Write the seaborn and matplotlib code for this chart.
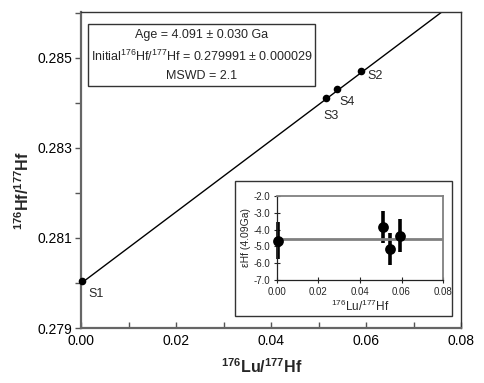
import numpy as np
import pandas as pd
import matplotlib
matplotlib.use("Agg")
import matplotlib.pyplot as plt
from matplotlib.patches import Rectangle
from matplotlib.ticker import MultipleLocator, FormatStrFormatter
import seaborn as sns

# ---- data ----
samples = ["S1", "S2", "S3", "S4"]
lu_hf = [0.0002, 0.0589, 0.0516, 0.0539]
hf_hf = [0.28004, 0.28471, 0.28411, 0.28431]
iso_intercept = 0.279991
iso_slope = 0.07937
iso_x = [0.0, 0.08]

main_yticks = [0.279, 0.281, 0.283, 0.285]
main_yminor = [0.280, 0.282, 0.284, 0.286]

inset_x = [0.0005, 0.0513, 0.0545, 0.0592]
inset_ehf = [-4.65, -3.83, -5.15, -4.36]
inset_err = [1.1, 0.95, 0.95, 1.0]
inset_mean = -4.55

box_lines = ["Age = 4.091 \u00b1 0.030 Ga",
             "Initial$^{176}$Hf/$^{177}$Hf = 0.279991 \u00b1 0.000029",
             "MSWD = 2.1"]

sns.set_style("ticks")
plt.rcParams["font.family"] = ["Liberation Sans", "DejaVu Sans"]
plt.rcParams["mathtext.fontset"] = "custom"
plt.rcParams["mathtext.rm"] = "Liberation Sans"
plt.rcParams["mathtext.it"] = "Liberation Sans:italic"
plt.rcParams["mathtext.bf"] = "Liberation Sans:bold"

df = pd.DataFrame({"sample": samples, "x": lu_hf, "y": hf_hf})

fig = plt.figure(figsize=(4.84, 3.83), dpi=100)
ax = fig.add_axes([0.1674, 0.1436, 0.7851, 0.8251])

iso_y = [iso_intercept + iso_slope * v for v in iso_x]
ax.plot(iso_x, iso_y, color="black", lw=1.0, zorder=2)
sns.scatterplot(data=df, x="x", y="y", ax=ax, color="black", s=30,
                edgecolor="black", linewidth=0, zorder=3, legend=False, clip_on=False)

offsets = {"S1": (0.0013, -0.00028), "S2": (0.0013, -0.00012),
           "S3": (-0.0005, -0.00041), "S4": (0.0006, -0.00030)}
for s, xv, yv in zip(samples, lu_hf, hf_hf):
    dx, dy = offsets[s]
    ax.text(xv + dx, yv + dy, s, fontsize=9, ha="left", va="center")

ax.set_xlim(0, 0.08)
ax.set_ylim(0.279, 0.28602)
ax.xaxis.set_major_locator(MultipleLocator(0.02))
ax.xaxis.set_minor_locator(MultipleLocator(0.01))
ax.set_yticks(main_yticks)
ax.set_yticks(main_yminor, minor=True)
ax.xaxis.set_major_formatter(FormatStrFormatter("%.2f"))
ax.yaxis.set_major_formatter(FormatStrFormatter("%.3f"))
ax.tick_params(axis="x", which="both", direction="in", length=4, width=1, colors="#555555", labelcolor="black", labelsize=10, pad=4)
ax.tick_params(axis="y", which="both", direction="out", length=4, width=1, colors="#555555", labelcolor="black", labelsize=10, pad=2)
for sp in ["left", "bottom"]:
    ax.spines[sp].set_color("#666666")
    ax.spines[sp].set_linewidth(1.6)
for sp in ["top", "right"]:
    ax.spines[sp].set_color("#333333")
    ax.spines[sp].set_linewidth(1.0)
ax.set_xlabel(r"$\mathbf{^{176}Lu/^{177}Hf}$", fontsize=11.5)
ax.set_ylabel(r"$\mathbf{^{176}Hf/^{177}Hf}$", fontsize=11.5)
ax.xaxis.set_label_coords(0.476, -0.092)
ax.yaxis.set_label_coords(-0.128, 0.434)

# text box
fig.patches.append(Rectangle((0.1818, 0.7755), 0.469, 0.1619, transform=fig.transFigure,
                             facecolor="white", edgecolor="#333333", lw=1.0, zorder=5))
for t, yy in zip(box_lines, [0.9086, 0.8538, 0.8016]):
    fig.text(0.4174, yy, t, ha="center", va="center", fontsize=9, zorder=6)

# inset frame
fig.patches.append(Rectangle((0.4855, 0.1749), 0.4484, 0.3525, transform=fig.transFigure,
                             facecolor="white", edgecolor="#333333", lw=1.0, zorder=5))
axi = fig.add_axes([0.5723, 0.2689, 0.343, 0.2194])
axi.set_zorder(6)
axi.errorbar(inset_x, inset_ehf, yerr=inset_err, fmt="none", ecolor="black",
             elinewidth=2.6, capsize=0, zorder=2, clip_on=False)
axi.axhline(inset_mean, color="#808080", lw=2.0, zorder=3)
sns.scatterplot(x=inset_x, y=inset_ehf, ax=axi, color="black", s=60,
                edgecolor="black", linewidth=0, zorder=4, legend=False, clip_on=False)
axi.set_xlim(0, 0.08)
axi.set_ylim(-7, -2)
axi.xaxis.set_major_locator(MultipleLocator(0.02))
axi.yaxis.set_major_locator(MultipleLocator(1.0))
axi.xaxis.set_major_formatter(FormatStrFormatter("%.2f"))
axi.yaxis.set_major_formatter(FormatStrFormatter("%.1f"))
axi.tick_params(axis="both", direction="inout", length=4, width=0.8, labelsize=7, pad=3)
for sp in ["top", "right"]:
    axi.spines[sp].set_color("#808080")
    axi.spines[sp].set_linewidth(1.3)
for sp in ["left", "bottom"]:
    axi.spines[sp].set_color("#222222")
    axi.spines[sp].set_linewidth(0.9)
axi.set_xlabel(r"$^{176}$Lu/$^{177}$Hf", fontsize=8.5, labelpad=1)
axi.set_ylabel("\u03b5Hf (4.09Ga)", fontsize=7.5, labelpad=2)

fig.savefig("out.png", dpi=100)
